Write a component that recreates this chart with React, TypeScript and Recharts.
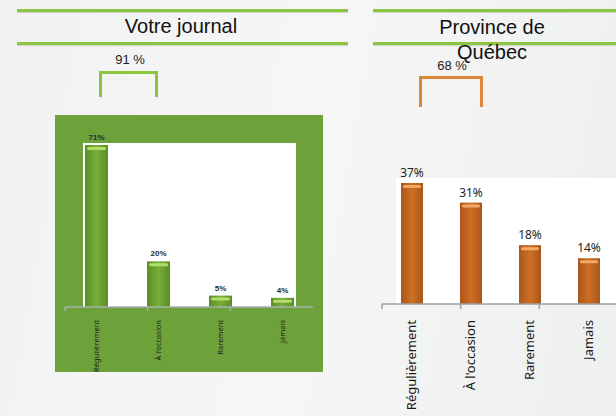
import { BarChart, Bar, XAxis, YAxis, LabelList } from "recharts"

const categories = ["Régulièrement", "À l'occasion", "Rarement", "Jamais"]
const journalValues = [71, 20, 5, 4]
const quebecValues = [37, 31, 18, 14]
const journalTotal = "91 %"
const quebecTotal = "68 %"
const boundaryTicks = [0, 1, 2, 3, 4]

const journalData = categories.map((name, i) => ({ name, value: journalValues[i] }))
const quebecData = categories.map((name, i) => ({ name, value: quebecValues[i] }))

const GREEN_LINE = "#8cc63f"

const makeBarShape = (id: string, edge: string, mid: string, shine: string) => (props: any) => {
  const { x, y, width, height } = props
  if (!height || height <= 0) return null
  return (
    <g>
      <defs>
        <linearGradient id={id} x1="0" y1="0" x2="1" y2="0">
          <stop offset="0%" stopColor={edge} />
          <stop offset="50%" stopColor={mid} />
          <stop offset="100%" stopColor={edge} />
        </linearGradient>
      </defs>
      <rect x={x} y={y} width={width} height={height} fill={`url(#${id})`} />
      <rect
        x={x + 2}
        y={y + 2}
        width={Math.max(width - 4, 0)}
        height={Math.min(3, height - 2)}
        rx={1.5}
        fill={shine}
      />
    </g>
  )
}

const makeTick = (fontSize: number, color: string, gap: number) => (props: any) => {
  const { x, y, payload } = props
  return (
    <text
      x={0}
      y={0}
      transform={`translate(${x + fontSize * 0.35},${y + gap}) rotate(-90)`}
      textAnchor="end"
      fontSize={fontSize}
      fill={color}
      fontFamily="'Noto Sans', sans-serif"
    >
      {payload.value}
    </text>
  )
}

const noTick = () => <g />

const pct = (v: any) => `${v}%`

function Line({ left, top, width }: { left: number; top: number; width: number }) {
  return (
    <div
      style={{
        position: "absolute",
        left,
        top,
        width,
        height: 3,
        background: GREEN_LINE,
        boxShadow: "0 1px 1px rgba(0,0,0,0.15)",
      }}
    />
  )
}

export default function App() {
  const journalMax = Math.max(...journalValues)
  const quebecMax = Math.max(...quebecValues)

  return (
    <div
      style={{
        position: "absolute",
        left: 0,
        top: 0,
        width: 616,
        height: 416,
        overflow: "hidden",
        background: "linear-gradient(100deg, #f1f2f2 0%, #f6f6f6 50%, #eeefef 100%)",
        fontFamily: "'Liberation Sans', Arial, sans-serif",
      }}
    >
      <Line left={17} top={9} width={331} />
      <Line left={17} top={42} width={331} />
      <Line left={373} top={9} width={243} />
      <Line left={373} top={42} width={243} />

      <div style={{ position: "absolute", left: 81, top: 15, width: 200, textAlign: "center", fontSize: 20, color: "#111" }}>
        Votre journal
      </div>
      <div
        style={{
          position: "absolute",
          left: 392,
          top: 15,
          width: 200,
          textAlign: "center",
          fontSize: 20,
          lineHeight: "25px",
          color: "#111",
          zIndex: 3,
        }}
      >
        Province de
        <br />
        Québec
      </div>

      <div style={{ position: "absolute", left: 100, top: 52, width: 60, textAlign: "center", fontSize: 13, color: "#222" }}>
        {journalTotal}
      </div>
      <div
        style={{
          position: "absolute",
          left: 99,
          top: 71,
          width: 53,
          height: 23,
          borderTop: `3px solid ${GREEN_LINE}`,
          borderLeft: `3px solid ${GREEN_LINE}`,
          borderRight: `3px solid ${GREEN_LINE}`,
        }}
      />
      <div style={{ position: "absolute", left: 422, top: 58, width: 60, textAlign: "center", fontSize: 13, color: "#222", zIndex: 2 }}>
        {quebecTotal}
      </div>
      <div
        style={{
          position: "absolute",
          left: 419,
          top: 76,
          width: 58,
          height: 28,
          borderTop: "3px solid #dd8838",
          borderLeft: "3px solid #dd8838",
          borderRight: "3px solid #dd8838",
        }}
      />

      {/* Votre journal */}
      <div style={{ position: "absolute", left: 55, top: 115, width: 268, height: 257, background: "#6da23a" }} />
      <div style={{ position: "absolute", left: 83, top: 143, width: 213, height: 164, background: "#ffffff" }} />
      <div style={{ position: "absolute", left: 55, top: 115 }}>
        <BarChart width={268} height={257} data={journalData} margin={{ top: 30, right: 10, bottom: 0, left: 10 }}>
          <YAxis hide domain={[0, journalMax]} />
          <XAxis
            xAxisId="axisA"
            type="number"
            domain={[0, 4]}
            ticks={boundaryTicks}
            height={5}
            tick={noTick}
            tickSize={4}
            stroke="#a9aeb3"
            strokeWidth={1.5}
            allowDataOverflow
          />
          <XAxis
            xAxisId="axisB"
            dataKey="name"
            height={60}
            axisLine={false}
            tickLine={false}
            interval={0}
            tick={makeTick(7.5, "#1c1c1c", 0)}
          />
          <Bar
            xAxisId="axisB"
            dataKey="value"
            barSize={23}
            isAnimationActive={false}
            shape={makeBarShape("gJournal", "#5b8e27", "#78ae3a", "#b4dc68")}
          >
            <LabelList dataKey="value" position="top" offset={5} formatter={pct} fontSize={8} fontWeight={700} fill="#2a2a2a" />
          </Bar>
        </BarChart>
      </div>

      {/* Province de Québec */}
      <div style={{ position: "absolute", left: 396, top: 178, width: 220, height: 126, background: "#ffffff" }} />
      <div style={{ position: "absolute", left: 370, top: 150 }}>
        <BarChart width={260} height={266} data={quebecData} margin={{ top: 33, right: 12, bottom: 0, left: 12 }}>
          <YAxis hide domain={[0, quebecMax]} />
          <XAxis
            xAxisId="axisA"
            type="number"
            domain={[0, 4]}
            ticks={boundaryTicks}
            height={6}
            tick={noTick}
            tickSize={5}
            stroke="#9aa0a6"
            strokeWidth={1.5}
            allowDataOverflow
          />
          <XAxis
            xAxisId="axisB"
            dataKey="name"
            height={106}
            axisLine={false}
            tickLine={false}
            interval={0}
            tick={makeTick(13, "#1a1a1a", 2)}
          />
          <Bar
            xAxisId="axisB"
            dataKey="value"
            barSize={22}
            isAnimationActive={false}
            shape={makeBarShape("gQuebec", "#a9561a", "#cf6f24", "#f3a866")}
          >
            <LabelList
              dataKey="value"
              position="top"
              offset={6}
              formatter={pct}
              fontSize={12}
              fill="#1f1f1f"
              fontFamily="'Noto Sans', sans-serif"
            />
          </Bar>
        </BarChart>
      </div>
    </div>
  )
}
